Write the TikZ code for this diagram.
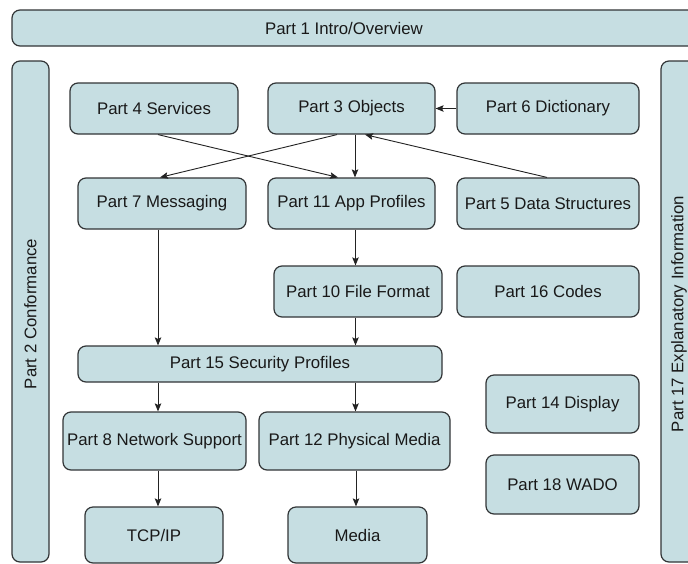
\documentclass[tikz,border=0pt]{standalone}
\usepackage{fontspec}
\setmainfont{Liberation Sans}
\usetikzlibrary{arrows.meta,calc}
\definecolor{boxfill}{RGB}{198,222,226}
\definecolor{boxline}{RGB}{50,53,55}
\definecolor{arrline}{RGB}{35,35,35}
\tikzset{
  part/.style={draw=boxline, fill=boxfill, line width=1.2pt, rounded corners=8pt,
    inner sep=0pt, font=\fontsize{16.8}{19}\selectfont, text=black!90},
  link/.style={draw=arrline, line width=0.9pt, -{Stealth[length=8pt,width=6.5pt,inset=1.5pt]}},
  plain/.style={font=\fontsize{16.8}{19}\selectfont, text=black!90, inner sep=0pt}
}
\begin{document}
\begin{tikzpicture}[x=1pt,y=-1pt]
\useasboundingbox (0,0) rectangle (688,563);
\fill[white] (0,0) rectangle (688,563);
\clip (0,0) rectangle (688,563);

% framing bands
\node[part, minimum width=688pt, minimum height=36pt] (p1) at (356,28) {};
\node[plain] (p1text) at (344,28) {Part 1 Intro/Overview};
\node[part, minimum width=37pt, minimum height=501pt] (p2) at (30.5,311.5) {};
\node[plain, rotate=90] (p2text) at (30.5,314) {Part 2 Conformance};
\node[part, minimum width=40pt, minimum height=501pt] (p17) at (681,311.5) {};
\node[plain, rotate=90] (p17text) at (679,314) {Part 17 Explanatory Information};

% core parts
\node[part, minimum width=168pt, minimum height=51pt] (p4) at (154,108.5) {Part 4 Services};
\node[part, minimum width=167pt, minimum height=51pt] (p3) at (351.5,108.5) {Part 3 Objects};
\node[part, minimum width=182pt, minimum height=51pt] (p6) at (548,108.5) {Part 6 Dictionary};
\node[part, minimum width=168pt, minimum height=51pt] (p7) at (162,203.5) {Part 7 Messaging};
\node[part, minimum width=167pt, minimum height=51pt] (p11) at (351.5,203.5) {Part 11 App Profiles};
\node[part, minimum width=182pt, minimum height=51pt] (p5) at (548,203.5) {Part 5 Data Structures};
\node[part, minimum width=168pt, minimum height=51pt] (p10) at (358,291.5) {Part 10 File Format};
\node[part, minimum width=182pt, minimum height=51pt] (p16) at (548,291.5) {Part 16 Codes};
\node[part, minimum width=364pt, minimum height=36pt] (p15) at (260,364) {Part 15 Security Profiles};
\node[part, minimum width=183pt, minimum height=58pt] (p8) at (154.5,441) {Part 8 Network Support};
\node[part, minimum width=191pt, minimum height=58pt] (p12) at (354.5,441) {Part 12 Physical Media};
\node[part, minimum width=138pt, minimum height=56pt] (tcp) at (154,535) {TCP/IP};
\node[part, minimum width=139pt, minimum height=56pt] (media) at (357.5,535) {Media};
\node[part, minimum width=153pt, minimum height=58pt] (p14) at (562.5,404) {Part 14 Display};
\node[part, minimum width=153pt, minimum height=59pt] (p18) at (562.5,484.5) {Part 18 WADO};

% dependencies
\draw[link] (p6.west) -- (p3.east);
\draw[link] ([xshift=4pt]p4.south) -- ([xshift=-13.5pt]p11.north);
\draw[link] ([xshift=-14.5pt]p3.south) -- ([xshift=-2pt]p7.north);
\draw[link] ([xshift=3.5pt]p3.south) -- ([xshift=3.5pt]p11.north);
\draw[link] ([xshift=-1pt]p5.north) -- ([xshift=13.5pt]p3.south);
\draw[link] ([xshift=-4pt]p7.south) -- ([xshift=-4pt]p7.south |- p15.north);
\draw[link] ([xshift=4pt]p11.south) -- ([xshift=4pt]p11.south |- p10.north);
\draw[link] ([xshift=-2.5pt]p10.south) -- ([xshift=-2.5pt]p10.south |- p15.north);
\draw[link] ([xshift=-102pt]p15.south) -- ([xshift=-102pt]p15.south |- p8.north);
\draw[link] ([xshift=95.5pt]p15.south) -- ([xshift=95.5pt]p15.south |- p12.north);
\draw[link] ([xshift=3.5pt]p8.south) -- ([xshift=3.5pt]p8.south |- tcp.north);
\draw[link] ([xshift=1.5pt]p12.south) -- ([xshift=1.5pt]p12.south |- media.north);
\end{tikzpicture}
\end{document}
